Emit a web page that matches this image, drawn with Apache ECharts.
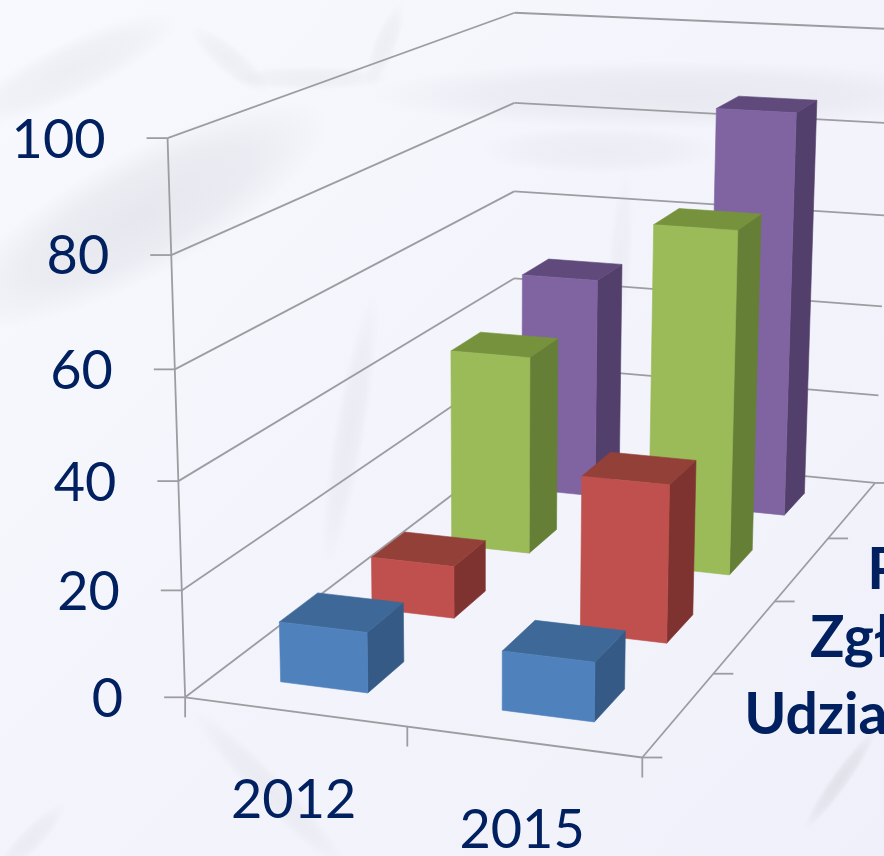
<!DOCTYPE html>
<html>
<head>
<meta charset="utf-8">
<style>
html, body { margin: 0; padding: 0; overflow: hidden; background: #f5f6fd; }
#chart { width: 884px; height: 856px; }
</style>
<script src="https://cdn.jsdelivr.net/npm/echarts@6/dist/echarts.min.js"></script>
</head>
<body>
<div id="chart"></div>
<script>
const years = ['2012', '2015']
const rowNames = ['Udzia', 'Zgł', 'P', '']
const yTicks = [0, 20, 40, 60, 80, 100]

const blueValues = [11.4, 11]
const redValues = [10.4, 30.8]
const greenValues = [41.2, 70]
const purpleValues = [48, 86.2]

// front, top, side colour of each row, front row first
const rowColors = [
    ['#4f81bd', '#3e6897', '#355a85'],
    ['#c0504d', '#934039', '#7f3330'],
    ['#9bbb59', '#76923c', '#657f36'],
    ['#8064a2', '#5f4a7b', '#533f6b']
]
const rowValues = [blueValues, redValues, greenValues, purpleValues]

const navy = '#002060'
const lineColor = '#9d9da1'

// hidden grid: the axes turn values into grid pixels, project() then puts them in perspective
const gridRect = { left: 100, top: 100, width: 600, height: 600 }

// chart box corners [u, v, z] -> picture pixel, used to fit the camera
const boxCorners = [
    [0, 0, 0, 185, 696],
    [1, 0, 0, 642, 759],
    [1, 1, 0, 875, 481],
    [0, 1, 0, 514, 450],
    [0, 0, 1, 168, 138],
    [0, 1, 1, 514, 12],
    [1, 1, 1, 893, 30]
]

function solve(a, b) {
    let n = b.length
    for (let i = 0; i < n; i++) {
        let p = i
        for (let r = i + 1; r < n; r++) {
            if (Math.abs(a[r][i]) > Math.abs(a[p][i])) p = r
        }
        let t = a[i]; a[i] = a[p]; a[p] = t
        t = b[i]; b[i] = b[p]; b[p] = t
        for (let r = i + 1; r < n; r++) {
            let f = a[r][i] / a[i][i]
            for (let c = i; c < n; c++) a[r][c] -= f * a[i][c]
            b[r] -= f * b[i]
        }
    }
    let x = new Array(n).fill(0)
    for (let i = n - 1; i >= 0; i--) {
        let s = b[i]
        for (let c = i + 1; c < n; c++) s -= a[i][c] * x[c]
        x[i] = s / a[i][i]
    }
    return x
}

// least squares fit of the 3x4 projection (last entry fixed to 1)
function fitCamera() {
    let rows = [], rhs = []
    boxCorners.forEach(c => {
        let u = c[0], v = c[1], z = c[2], px = c[3], py = c[4]
        rows.push([u, v, z, 1, 0, 0, 0, 0, -px * u, -px * v, -px * z])
        rhs.push(px)
        rows.push([0, 0, 0, 0, u, v, z, 1, -py * u, -py * v, -py * z])
        rhs.push(py)
    })
    let ata = [], atb = []
    for (let i = 0; i < 11; i++) {
        ata.push(new Array(11).fill(0))
        atb.push(0)
        rows.forEach((r, k) => {
            for (let j = 0; j < 11; j++) ata[i][j] += r[i] * r[j]
            atb[i] += r[i] * rhs[k]
        })
    }
    return solve(ata, atb)
}

const cam = fitCamera()

function project(u, v, z) {
    let w = cam[8] * u + cam[9] * v + cam[10] * z + 1
    return [
        (cam[0] * u + cam[1] * v + cam[2] * z + cam[3]) / w,
        (cam[4] * u + cam[5] * v + cam[6] * z + cam[7]) / w
    ]
}

function segment(a, b) {
    return {
        type: 'line',
        shape: { x1: a[0], y1: a[1], x2: b[0], y2: b[1] },
        style: { stroke: lineColor, lineWidth: 1.8 }
    }
}

function label(text, x, y, align, bold) {
    return {
        type: 'text',
        style: {
            text: text, x: x, y: y, fill: navy, align: align, verticalAlign: 'middle',
            font: bold ? 'bold 57px Lato' : '54px Lato'
        }
    }
}

function renderFrame(params, api) {
    let kids = []
    yTicks.forEach(t => {
        let z = (gridRect.top + gridRect.height - api.coord([0, t])[1]) / gridRect.height
        let a = project(0, 0, z), b = project(0, 1, z), c = project(1, 1, z)
        kids.push(segment([a[0] - 21, a[1]], a))
        if (t > 0) kids.push(segment(a, b))
        kids.push(segment(b, c))
        kids.push(label(String(t), a[0] - 62, a[1] + 2, 'right'))
    })
    kids.push(segment(project(0, 0, 0), project(0, 0, 1)))
    kids.push(segment(project(0, 0, 0), project(1, 0, 0)))
    kids.push(segment(project(1, 0, 0), project(1, 1, 0)))
    kids.push(segment(project(0, 0, 0), project(0, 1, 0)))
    // ticks under the front edge
    ;[0, 0.5, 1].forEach(u => {
        let p = project(u, 0, 0)
        kids.push(segment(p, [p[0], p[1] + 20]))
    })
    // ticks right of the depth edge
    ;[0, 0.25, 0.5, 0.75, 1].forEach(v => {
        let p = project(1, v, 0)
        kids.push(segment(p, [p[0] + 20, p[1]]))
    })
    years.forEach((y, i) => {
        let p = project((i + 0.5) / years.length, 0, 0)
        kids.push(label(y, p[0] - 1, p[1] + 89, 'center'))
    })
    rowNames.forEach((n, i) => {
        if (!n) return
        let p = project(1, (i + 0.5) / rowNames.length, 0)
        kids.push(label(n, p[0] + 65, p[1] + 2, 'left', true))
    })
    return { type: 'group', children: kids }
}

function renderBar(params, api) {
    let row = api.value(2)
    let foot = api.coord([api.value(0), 0])
    let head = api.coord([api.value(0), api.value(1)])
    let band = api.size([1, 0])[0] / gridRect.width
    let uc = (foot[0] - gridRect.left) / gridRect.width
    let z = (foot[1] - head[1]) / gridRect.height
    let u0 = uc - band * 0.2, u1 = uc + band * 0.2
    let v0 = (row + 0.3) / rowNames.length, v1 = (row + 0.7) / rowNames.length
    let colors = rowColors[row]
    let face = (pts, fill) => ({
        type: 'polygon',
        shape: { points: pts },
        style: { fill: fill, stroke: fill, lineWidth: 0.6 }
    })
    return {
        type: 'group',
        children: [
            face([project(u1, v0, 0), project(u1, v1, 0), project(u1, v1, z), project(u1, v0, z)], colors[2]),
            face([project(u0, v0, z), project(u1, v0, z), project(u1, v1, z), project(u0, v1, z)], colors[1]),
            face([project(u0, v0, 0), project(u1, v0, 0), project(u1, v0, z), project(u0, v0, z)], colors[0])
        ]
    }
}

// faint picture behind the chart: soft grey blobs, a unit circle stretched by scale
function blob(cx, cy, rx, ry, rot, alpha) {
    return {
        type: 'circle',
        z: 0,
        silent: true,
        x: cx,
        y: cy,
        rotation: rot,
        scaleX: rx / 100,
        scaleY: ry / 100,
        shape: { cx: 0, cy: 0, r: 100 },
        style: {
            fill: {
                type: 'radial', x: 0.5, y: 0.5, r: 0.5,
                colorStops: [
                    { offset: 0, color: 'rgba(218,218,226,' + alpha + ')' },
                    { offset: 0.6, color: 'rgba(218,218,226,' + alpha * 0.7 + ')' },
                    { offset: 1, color: 'rgba(218,218,226,0)' }
                ]
            }
        }
    }
}

let EC = echarts.init(document.getElementById('chart'), null, { renderer: 'canvas' })

let barSeries = []
for (let row = rowNames.length - 1; row >= 0; row--) {
    barSeries.push({
        type: 'custom',
        coordinateSystem: 'cartesian2d',
        clip: false,
        z: 5 + rowNames.length - row,
        renderItem: renderBar,
        encode: { x: 0, y: 1 },
        data: rowValues[row].map((val, i) => [i, val, row])
    })
}

let option = {
    animation: false,
    backgroundColor: {
        type: 'linear', x: 0, y: 0, x2: 1, y2: 1,
        colorStops: [
            { offset: 0, color: '#f8f9fe' },
            { offset: 1, color: '#eff0f9' }
        ]
    },
    grid: gridRect,
    xAxis: { type: 'category', data: years, show: false },
    yAxis: { type: 'value', min: 0, max: 100, show: false },
    graphic: [
        blob(70, 70, 120, 28, 0.45, 0.35),
        blob(140, 215, 210, 62, 0.5, 0.55),
        blob(230, 60, 50, 14, -0.7, 0.3),
        blob(310, 78, 80, 12, 0, 0.3),
        blob(385, 45, 45, 12, 1.2, 0.3),
        blob(670, 95, 300, 34, 0, 0.45),
        blob(600, 150, 120, 24, 0, 0.3),
        blob(350, 430, 140, 16, 1.4, 0.35),
        blob(620, 260, 90, 12, 1.5, 0.25),
        blob(270, 790, 110, 16, -0.8, 0.35),
        blob(30, 840, 50, 12, 0.8, 0.35),
        blob(840, 780, 60, 9, 0.95, 0.7)
    ],
    series: [{
        type: 'custom',
        coordinateSystem: 'cartesian2d',
        clip: false,
        z: 2,
        renderItem: renderFrame,
        encode: { x: 0, y: 1 },
        data: [[0, 0]]
    }].concat(barSeries)
}
EC.setOption(option)
</script>
</body>
</html>
